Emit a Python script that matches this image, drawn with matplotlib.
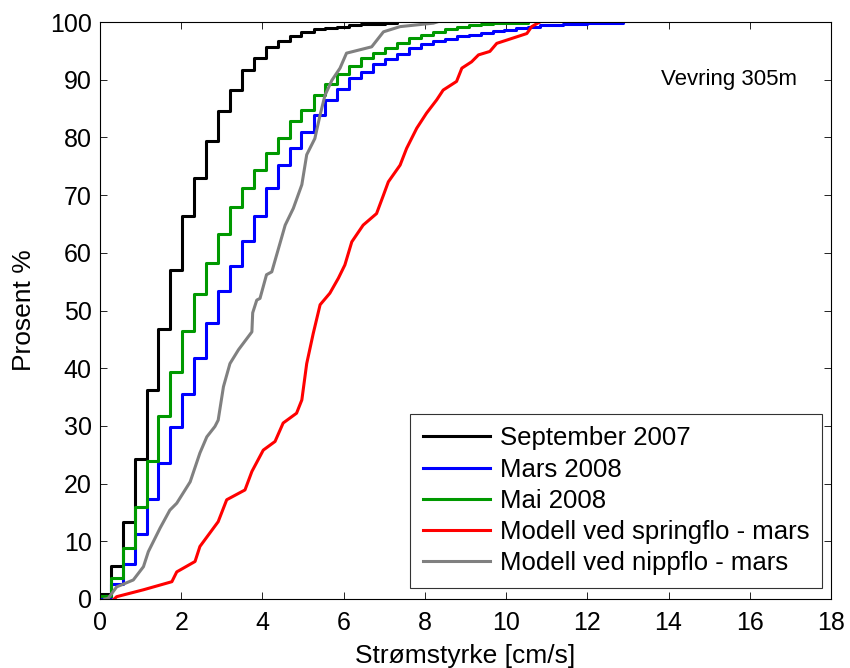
import matplotlib
matplotlib.use("Agg")
import matplotlib.pyplot as plt
import numpy as np

plt.rcParams['font.family'] = ['Liberation Sans', 'DejaVu Sans']

# --- Data -------------------------------------------------------------
# Measured series (step CDFs): bin edges [cm/s] and cumulative percent
sep07_x = [0, 0.26, 0.57, 0.86, 1.15, 1.44, 1.73, 2.03, 2.32, 2.61, 2.91, 3.20,
           3.50, 3.79, 4.08, 4.38, 4.67, 4.96, 5.26, 5.55, 5.84, 6.14, 6.43,
           6.73, 7.02, 7.31]
sep07_y = [0.8, 5.8, 13.4, 24.2, 36.3, 46.8, 57.1, 66.3, 73.0, 79.4, 84.5, 88.2,
           91.7, 93.7, 95.6, 96.7, 97.5, 98.3, 98.8, 99.0, 99.2, 99.4, 99.6,
           99.7, 99.9, 100.0]

mar08_x = [0, 0.26, 0.57, 0.86, 1.15, 1.44, 1.73, 2.03, 2.32, 2.61, 2.91, 3.20,
           3.50, 3.79, 4.08, 4.38, 4.67, 4.96, 5.26, 5.55, 5.84, 6.14, 6.43,
           6.73, 7.02, 7.31, 7.61, 7.90, 8.20, 8.49, 8.78, 9.08, 9.37, 9.67,
           9.96, 10.25, 10.55, 10.84, 11.40, 12.00, 12.88]
mar08_y = [0.4, 2.6, 6.0, 11.2, 17.3, 23.6, 29.8, 35.6, 41.8, 47.9, 53.3, 57.7,
           62.1, 66.3, 71.2, 75.3, 78.1, 80.9, 83.8, 86.5, 88.4, 90.3, 91.3,
           92.7, 93.6, 94.5, 95.5, 96.2, 96.7, 97.1, 97.5, 97.8, 98.1, 98.4,
           98.7, 98.9, 99.2, 99.5, 99.7, 99.9, 100.0]

mai08_x = [0, 0.26, 0.57, 0.86, 1.15, 1.44, 1.73, 2.03, 2.32, 2.61, 2.91, 3.20,
           3.50, 3.79, 4.08, 4.38, 4.67, 4.96, 5.26, 5.55, 5.84, 6.14, 6.43,
           6.73, 7.02, 7.31, 7.61, 7.90, 8.20, 8.49, 8.78, 9.08, 9.37, 9.67,
           9.96, 10.55]
mai08_y = [0.6, 3.7, 8.9, 15.9, 23.9, 31.7, 39.3, 46.4, 52.8, 58.2, 63.3, 67.9,
           71.2, 74.4, 77.3, 79.9, 82.9, 84.8, 87.3, 89.3, 91.0, 92.4, 93.8,
           94.7, 95.5, 96.4, 97.3, 97.8, 98.3, 98.8, 99.2, 99.5, 99.7, 99.8,
           99.9, 100.0]

# Model series (smooth CDFs)
spring_x = [0.35, 0.41, 1.07, 1.77, 1.89, 2.34, 2.46, 2.91, 3.12, 3.57, 3.74,
            4.02, 4.31, 4.51, 4.84, 4.97, 5.09, 5.25, 5.42, 5.66, 5.87, 6.03,
            6.20, 6.48, 6.81, 6.98, 7.10, 7.39, 7.55, 7.80, 8.04, 8.29, 8.45,
            8.78, 8.91, 9.15, 9.32, 9.60, 9.77, 10.51, 10.63, 10.83]
spring_y = [0.0, 0.4, 1.6, 3.0, 4.7, 6.5, 9.1, 13.4, 17.2, 18.9, 22.1,
            25.8, 27.3, 30.5, 32.2, 34.5, 40.8, 46.0, 51.0, 53.0, 55.6, 57.9,
            61.9, 64.8, 66.8, 70.0, 72.3, 75.2, 78.1, 81.6, 84.2, 86.5, 88.2,
            89.7, 92.0, 93.1, 94.3, 94.9, 96.3, 98.0, 99.2, 100.0]

nipp_x = [0.12, 0.20, 0.41, 0.82, 1.07, 1.19, 1.48, 1.72, 1.89, 2.22, 2.46, 2.63,
          2.83, 2.91, 3.04, 3.20, 3.41, 3.74, 3.76, 3.86, 3.94, 4.10, 4.23,
          4.43, 4.56, 4.76, 4.97, 5.09, 5.29, 5.42, 5.54, 5.71, 5.91, 6.07,
          6.69, 6.98, 7.39, 8.21, 8.30]
nipp_y = [0.0, 0.1, 2.1, 3.3, 5.6, 8.2, 12.3, 15.4, 16.6, 20.3, 25.3, 28.1,
          29.9, 31.0, 36.8, 40.8, 43.2, 46.3, 49.6, 51.8, 52.1, 56.2, 56.7,
          61.6, 64.8, 67.7, 71.8, 77.0, 79.8, 83.9, 87.3, 89.9, 92.0, 94.6,
          95.7, 98.3, 99.2, 99.8, 100.0]

labels = ["September 2007", "Mars 2008", "Mai 2008",
          "Modell ved springflo - mars", "Modell ved nippflo - mars"]
colors = ["#000000", "#0000ff", "#009900", "#ff0000", "#808080"]

x_ticks = [0, 2, 4, 6, 8, 10, 12, 14, 16, 18]
y_ticks = [0, 10, 20, 30, 40, 50, 60, 70, 80, 90, 100]

# --- Figure -----------------------------------------------------------
fig = plt.figure(figsize=(8.5, 6.68), dpi=100)
ax = fig.add_axes([100/850, 69/668, 731/850, 577/668])

lw = 2.2
ax.plot(sep07_x, sep07_y, drawstyle='steps-post', color=colors[0], lw=lw, label=labels[0])
ax.plot(mar08_x, mar08_y, drawstyle='steps-post', color=colors[1], lw=lw, label=labels[1])
ax.plot(mai08_x, mai08_y, drawstyle='steps-post', color=colors[2], lw=lw, label=labels[2])
ax.plot(spring_x, spring_y, color=colors[3], lw=lw, label=labels[3])
ax.plot(nipp_x, nipp_y, color=colors[4], lw=lw, label=labels[4])

ax.set_xlim(0, 18)
ax.set_ylim(0, 100)
ax.set_xticks(x_ticks)
ax.set_yticks(y_ticks)
ax.tick_params(direction='in', length=5, width=0.6, top=True, right=True,
               labelsize=18)
ax.tick_params(axis='x', pad=9)
ax.tick_params(axis='y', pad=6)
for s in ax.spines.values():
    s.set_linewidth(0.8)

ax.set_xlabel("Strømstyrke [cm/s]", fontsize=19, labelpad=6)
ax.set_ylabel("Prosent %", fontsize=19, labelpad=10)

ax.text(15.5, 90, "Vevring 305m", fontsize=16, ha='center', va='center')

leg = ax.legend(loc='lower right', bbox_to_anchor=(0.988, 0.019), fontsize=18.5,
                frameon=True, fancybox=False, edgecolor='black',
                handlelength=2.6, handletextpad=0.38, labelspacing=0.28,
                borderpad=0.5, borderaxespad=0.0)
leg.get_frame().set_linewidth(0.8)

fig.savefig("out.png", dpi=100)
